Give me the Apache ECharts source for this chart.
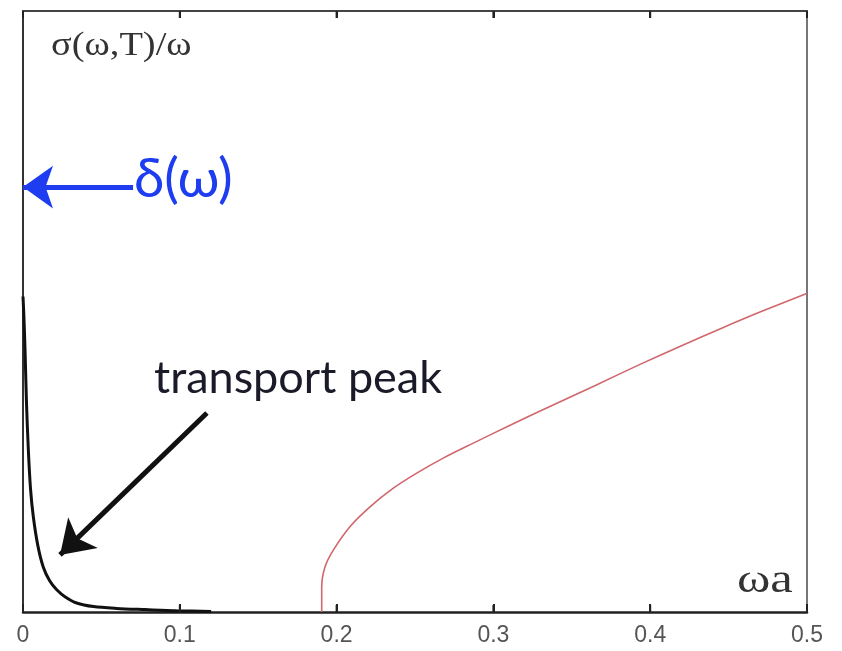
<!DOCTYPE html>
<html>
<head>
<meta charset="utf-8">
<script src="https://cdn.jsdelivr.net/npm/echarts@6/dist/echarts.min.js"></script>
<style>
html,body{margin:0;padding:0;background:#fff;}
#chart{width:842px;height:651px;}
</style>
</head>
<body>
<div id="chart"></div>
<script>
// x tick labels
var xTicks = [0, 0.1, 0.2, 0.3, 0.4, 0.5];
// transport peak (black)
var peakX = [0, 0.0006, 0.0013, 0.0022, 0.0034, 0.0048, 0.0066, 0.0095, 0.0129, 0.017, 0.0215, 0.027, 0.0342, 0.045, 0.0597, 0.078, 0.098, 0.12];
var peakY = [0.525, 0.49, 0.436, 0.35, 0.27, 0.205, 0.158, 0.11, 0.075, 0.052, 0.037, 0.025, 0.015, 0.009, 0.006, 0.004, 0.002, 0.001];
// red curve
var redX = [0.1905, 0.1905, 0.1926, 0.1979, 0.2085, 0.2213, 0.2362, 0.2511, 0.268, 0.2872, 0.31, 0.336, 0.365, 0.3935, 0.42, 0.4445, 0.47, 0.4998];
var redY = [0.0, 0.042, 0.075, 0.103, 0.142, 0.175, 0.206, 0.231, 0.256, 0.281, 0.310, 0.342, 0.377, 0.412, 0.443, 0.471, 0.499, 0.530];
// annotation arrows (data coordinates)
var deltaArrow = [[0.0702, 0.707], [0.0, 0.707]];
var peakArrow = [[0.1173, 0.331], [0.0236, 0.095]];

function zip(a, b) { return a.map(function (v, i) { return [v, b[i]]; }); }

var chart = echarts.init(document.getElementById('chart'));
chart.setOption({
  animation: false,
  backgroundColor: '#fff',
  grid: { left: 23, right: 35, top: 11, bottom: 39 },
  xAxis: [{
    type: 'value', min: 0, max: 0.5, interval: 0.1, position: 'bottom',
    axisLine: { show: true, onZero: false, lineStyle: { color: '#222', width: 2.5 } },
    axisTick: { show: true, inside: true, length: 8, lineStyle: { color: '#222', width: 2 } },
    splitLine: { show: false },
    axisLabel: { show: true, color: '#555', fontSize: 23, fontFamily: 'Liberation Sans', margin: 12 }
  }, {
    type: 'value', min: 0, max: 0.5, interval: 0.1, position: 'top',
    axisLine: { show: true, onZero: false, lineStyle: { color: '#444', width: 2 } },
    axisTick: { show: true, inside: true, length: 7, lineStyle: { color: '#222', width: 2 } },
    axisLabel: { show: false }, splitLine: { show: false }
  }],
  yAxis: [{
    type: 'value', min: 0, max: 1, position: 'left',
    axisLine: { show: true, onZero: false, lineStyle: { color: '#333', width: 2 } },
    axisTick: { show: false }, axisLabel: { show: false }, splitLine: { show: false }
  }, {
    type: 'value', min: 0, max: 1, position: 'right',
    axisLine: { show: true, onZero: false, lineStyle: { color: '#777', width: 2 } },
    axisTick: { show: false }, axisLabel: { show: false }, splitLine: { show: false }
  }],
  series: [{
    type: 'line', data: zip(peakX, peakY), showSymbol: false, smooth: 0.3,
    lineStyle: { color: '#111', width: 3 }, z: 3,
    markLine: {
      silent: true, symbol: ['none', 'arrow'], symbolSize: [32, 32],
      label: { show: false },
      lineStyle: { color: '#111', width: 5, type: 'solid' },
      data: [[{ coord: peakArrow[0] }, { coord: peakArrow[1] }]]
    }
  }, {
    type: 'line', data: zip(redX, redY), showSymbol: false, smooth: 0.3,
    lineStyle: { color: '#d0676c', width: 1.6 }, z: 2,
    markLine: {
      silent: true, symbol: ['none', 'arrow'], symbolSize: [32, 30],
      label: { show: false },
      lineStyle: { color: '#1e3df0', width: 5, type: 'solid' },
      data: [[{ coord: deltaArrow[0] }, { coord: deltaArrow[1] }]]
    }
  }, {
    // inward tick marks on bottom and top frame, placed through the x scale
    type: 'custom', silent: true, z: 5, clip: false,
    data: xTicks.slice(1, -1).map(function (t) { return [t]; }),
    encode: { x: 0 },
    renderItem: function (params, api) {
      var b = api.coord([api.value(0), 0]);
      var t = api.coord([api.value(0), 1]);
      var st = { stroke: '#222', lineWidth: 2 };
      return { type: 'group', children: [
        { type: 'line', shape: { x1: b[0], y1: b[1], x2: b[0], y2: b[1] - 7 }, style: st },
        { type: 'line', shape: { x1: t[0], y1: t[1], x2: t[0], y2: t[1] + 7 }, style: st }
      ] };
    }
  }],
  graphic: [
    { type: 'text', x: 51, y: 29, scaleX: 1.13, style: { text: 'σ(ω,T)/ω', fontFamily: 'Liberation Serif', fontSize: 34, fill: '#333' } },
    { type: 'text', x: 134, y: 152, style: { text: 'δ(ω)', fontFamily: 'Lato', fontSize: 55, fill: '#1e3df0' } },
    { type: 'text', x: 154, y: 356, style: { text: 'transport peak', fontFamily: 'Lato', fontSize: 45, fill: '#1a1a28' } },
    { type: 'text', x: 737, y: 562, scaleX: 1.3, style: { text: 'ωa', fontFamily: 'Liberation Serif', fontSize: 39, fill: '#333' } }
  ]
});
</script>
</body>
</html>
